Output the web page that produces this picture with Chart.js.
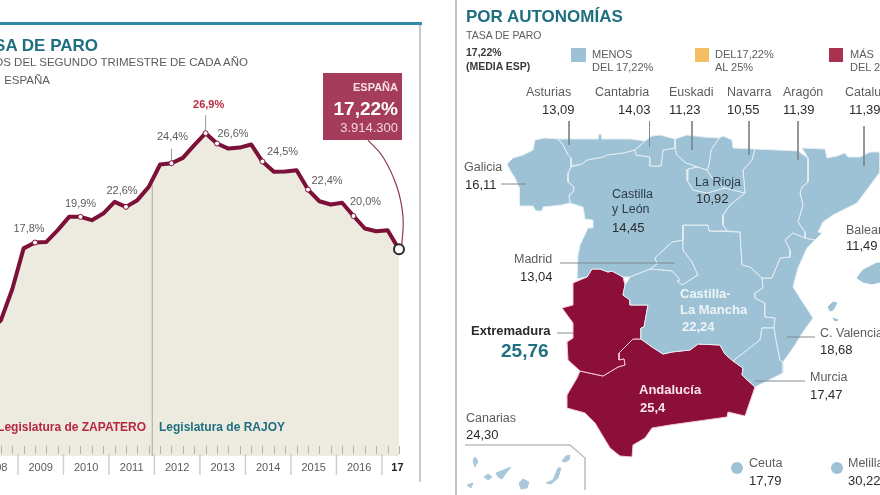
<!DOCTYPE html>
<html lang="es"><head><meta charset="utf-8"><title>Tasa de paro</title>
<style>
html,body{margin:0;padding:0;background:#fff;width:880px;height:495px;overflow:hidden;font-family:"Liberation Sans",Arial,sans-serif}
canvas{position:absolute;display:block}
#leftChart{left:-40px;top:0}
#mapChart{left:458px;top:0}
.t{position:absolute;white-space:nowrap;line-height:1;transform:translateY(-50%)}
.r{transform:translate(-100%,-50%)}
.bar{position:absolute}
</style>
<script src="https://cdn.jsdelivr.net/npm/chart.js@4"></script>
</head><body>
<canvas id="leftChart" width="480" height="495"></canvas>
<canvas id="mapChart" width="422" height="495"></canvas>
<script>
/* ---------- DATA: unemployment series ---------- */
const firstQuarter = [2008, 2];
const quarterValues = [
  10.4, 11.3, 13.9,
  17.3, 17.79, 17.84, 18.82,
  19.93, 19.93, 19.65, 20.2,
  21.18, 20.76, 21.32, 22.43,
  24.29, 24.4, 24.84, 25.9,
  26.9, 26.04, 25.62, 25.7,
  25.96, 24.54, 23.68, 23.7,
  23.82, 22.2, 21.23, 20.96,
  21.1, 20.0, 18.96, 18.73,
  18.82, 17.22
];
const yearLabels = ['2008','2009','2010','2011','2012','2013','2014','2015','2016','17'];
const labelledIndex = [4, 8, 12, 16, 19, 20, 24, 28, 32];
const labelledText  = ['17,8%','19,9%','22,6%','24,4%','26,9%','26,6%','24,5%','22,4%','20,0%'];
const spainRate = '17,22%';
const spainPeople = '3.914.300';

/* ---------- DATA: regional rates ---------- */
const regionNames  = ['Asturias','Cantabria','Euskadi','Navarra','Aragón','Cataluña','Galicia','La Rioja','Madrid','Baleares','C. Valencia','Murcia','Canarias','Ceuta','Melilla'];
const regionValues = ['13,09','14,03','11,23','10,55','11,39','11,39','16,11','10,92','13,04','11,49','18,68','17,47','24,30','17,79','30,22'];

/* ---------- DATA: map outlines, in map units ---------- */
const galicia = [[535,140],[545,138],[558,139],[563,145],[568,155],[571,158],[571,167],[568,173],[568,182],[574,187],[573,192],[569,195],[570,203],[562,205],[543,207],[542,211],[536,211],[533,206],[520,206],[519,197],[520,188],[515,178],[510,170],[507,164],[513,158],[523,155],[533,150]];
const asturias = [[558,139],[563,145],[568,155],[571,158],[571,166],[582,164],[587,160],[603,157],[607,155],[623,153],[635,150],[645,141],[630,139],[602,139],[601,134],[599,134],[598,139]];
const cantabria = [[635,150],[645,141],[652,136],[660,135],[675,139],[675,148],[663,150],[661,166],[650,166],[650,157],[636,155]];
const euskadi = [[675,139],[687,135],[703,137],[719,138],[711,150],[709,165],[707,170],[698,167],[686,163],[677,155],[675,148]];
const navarra = [[719,138],[723,136],[732,140],[733,148],[755,149],[752,160],[743,170],[745,193],[725,188],[712,178],[707,170],[709,165],[711,150]];
const rioja = [[688,169],[698,167],[707,170],[712,178],[725,188],[707,193],[693,190],[687,180]];
const castillaLeon = [[571,167],[582,164],[587,160],[603,157],[607,155],[623,153],[635,150],[636,155],[650,157],[650,166],[661,166],[663,150],[675,148],[677,155],[686,163],[698,167],[688,169],[687,180],[693,190],[707,193],[725,188],[745,193],[730,205],[723,215],[723,225],[727,231],[709,231],[708,225],[683,225],[683,240],[672,242],[658,255],[655,258],[657,264],[650,269],[647,270],[630,277],[623,277],[612,271],[608,272],[600,269],[592,269],[587,277],[577,279],[578,255],[580,245],[588,228],[593,228],[593,220],[585,219],[583,207],[570,203],[569,195],[573,192],[574,187],[568,182],[568,173]];
const aragon = [[755,149],[798,151],[808,158],[808,182],[802,187],[800,193],[803,205],[798,222],[805,232],[805,238],[793,233],[785,240],[790,250],[790,257],[780,258],[772,278],[762,278],[750,267],[742,265],[740,232],[727,231],[723,225],[723,215],[730,205],[745,193],[743,170],[752,160]];
const cataluna = [[802,148],[825,149],[827,158],[837,156],[845,153],[848,157],[860,157],[870,152],[880,152],[880,172],[857,203],[833,215],[823,222],[818,232],[822,233],[815,240],[805,238],[805,232],[798,222],[803,205],[800,193],[802,187],[808,182],[808,158]];
const valencia = [[772,278],[780,258],[790,257],[790,250],[785,240],[793,233],[805,238],[815,240],[807,248],[798,268],[793,287],[798,295],[813,318],[803,332],[793,348],[783,362],[780,360],[777,345],[774,328],[775,318],[765,317],[765,303],[755,298],[755,293],[763,288],[762,278]];
const murcia = [[762,328],[774,328],[777,345],[780,360],[783,362],[783,373],[773,378],[755,387],[742,375],[743,368],[733,361],[760,340]];
const castillaMancha = [[683,225],[708,225],[709,231],[740,232],[742,265],[750,267],[762,278],[763,288],[755,293],[755,298],[765,303],[765,317],[775,318],[774,328],[762,328],[760,340],[733,361],[725,354],[720,345],[698,344],[690,350],[672,352],[663,354],[652,347],[641,339],[641,328],[644,327],[648,305],[630,305],[630,300],[623,295],[625,285],[630,277],[647,270],[650,269],[672,271],[680,280],[677,281],[682,285],[698,275],[692,262],[683,250]];
const madrid = [[683,240],[672,242],[658,255],[655,258],[657,264],[650,269],[672,271],[680,280],[677,281],[682,285],[698,275],[692,262],[683,250]];
const extremadura = [[592,269],[600,269],[608,272],[612,271],[623,277],[625,285],[623,295],[630,300],[630,305],[648,305],[644,327],[641,328],[641,339],[633,339],[619,353],[619,360],[624,359],[625,365],[618,367],[603,376],[580,371],[568,360],[567,342],[573,338],[573,323],[562,308],[573,305],[573,283],[587,277]];
const andalucia = [[580,371],[603,376],[618,367],[625,365],[624,359],[619,360],[619,353],[633,339],[641,339],[652,347],[663,354],[672,352],[690,350],[698,344],[720,345],[725,354],[733,361],[743,368],[742,375],[755,387],[745,416],[728,412],[727,417],[670,425],[652,428],[645,438],[633,445],[632,457],[620,456],[610,448],[595,423],[585,413],[567,408],[567,395],[577,378]];
const mallorca = [[857,278],[863,270],[877,263],[880,263],[880,282],[872,284],[863,282]];
const ibiza = [[828,307],[833,302],[837,303],[833,310],[830,311]];
const formentera = [[833,318],[838,320],[835,321]];
const laPalma = [[473,460],[475,457],[478,461],[475,467]];
const gomera = [[484,477],[488,474],[492,477],[488,480]];
const tenerife = [[496,473],[511,467],[506,473],[502,479],[498,477]];
const hierro = [[467,485],[473,483],[471,488]];
const granCanaria = [[519,483],[523,479],[529,482],[527,488],[521,489]];
const fuerteventura = [[546,483],[553,480],[558,468],[561,468],[558,478],[551,484]];
const lanzarote = [[562,461],[566,456],[570,455],[569,460],[565,462]];
const canaryFrame = [[465,445],[570,445],[585,458],[585,490]];
const cityDots = [[737,468],[837,468]];
const leaderLines = [
  [[569,121],[569,145]],[[649.5,121],[649.5,147]],[[692,121],[692,150]],[[749,121],[749,155]],
  [[798,121],[798,160]],[[864,126],[864,166]],[[501,184],[526,184]],[[560,263],[675,263]],
  [[557,333],[573,333]],[[787,337],[815,337]],[[755,381],[805,381]]
];

/* ---------- styles ---------- */
const TEAL='#1f6f80', BLUE='#9dc2d6', MAROON='#8b0f38', INK='#3a3a3a', SOFT='#5c5c5c';
Chart.defaults.font.family='"Liberation Sans",Arial,sans-serif';
Chart.defaults.animation=false;

/* ---------- left chart ---------- */
const qx = i => { const q=firstQuarter[0]*4+firstQuarter[1]-1+i; return q/4+0.125; };
const series = quarterValues.map((v,i)=>({x:qx(i),y:v}));
const lastIdx = quarterValues.length-1;
const toPoint = p => ({x:p[0],y:p[1]});
const peak = labelledIndex[4], stem = labelledIndex[3];
const mandateChange = 2011.953;
const calloutCurve = [[2016.694,26.33],[2017.023,24.92],[2017.331,22.42],[2017.463,19.92],[2017.434,17.42]];
const labelOffsets = [[-6,-14],[0,-13],[-4,-16],[1,-26],[3,-28],[16,-10],[20,-10],[19,-9],[12,-14]];

const axisMarks = {
  id:'axisMarks',
  afterDatasetsDraw(chart){
    const {ctx,scales:{x},chartArea:a}=chart;
    ctx.save();
    ctx.strokeStyle='#b4b1a8';ctx.lineWidth=1;
    for(let y=2007;y<=2017;y++)for(let q=0;q<4;q++){
      const v=y+q/4+0.125; if(v>2017.4)continue;
      const p=Math.round(x.getPixelForValue(v))+.5;
      ctx.beginPath();ctx.moveTo(p,a.bottom-10);ctx.lineTo(p,a.bottom-2);ctx.stroke();
    }
    ctx.strokeStyle='#cfcfcf';ctx.lineWidth=1.5;
    for(let y=2008;y<=2017;y++){
      const p=x.getPixelForValue(y);
      ctx.beginPath();ctx.moveTo(p,a.bottom-2);ctx.lineTo(p,a.bottom+19);ctx.stroke();
    }
    ctx.textAlign='center';ctx.textBaseline='middle';
    labelledIndex.forEach((idx,k)=>{
      const px=x.getPixelForValue(series[idx].x), py=chart.scales.y.getPixelForValue(series[idx].y);
      const isPeak=idx===peak;
      ctx.font=(isPeak?'bold ':'')+'11px "Liberation Sans",Arial,sans-serif';
      ctx.fillStyle=isPeak?'#c0283f':SOFT;
      ctx.fillText(labelledText[k],px+labelOffsets[k][0],py+labelOffsets[k][1]);
    });
    ctx.restore();
  }
};

new Chart(document.getElementById('leftChart'),{
  type:'scatter',
  data:{datasets:[
    {data:series,showLine:true,order:1,clip:false,borderColor:'#7c1038',borderWidth:4,borderJoinStyle:'round',
      fill:'origin',backgroundColor:'#edeae0',
      pointRadius:c=>c.dataIndex===lastIdx?5:(labelledIndex.includes(c.dataIndex)?2.5:0),
      pointBackgroundColor:'#fff',
      pointBorderColor:c=>c.dataIndex===lastIdx?'#2a2a2a':'#7c1038',
      pointBorderWidth:c=>c.dataIndex===lastIdx?2:1},
    {data:[{x:mandateChange,y:0},{x:mandateChange,y:22.6}],showLine:true,order:3,pointRadius:0,borderColor:'#b5b3a8',borderWidth:1.2,clip:false},
    {data:[series[peak],{x:series[peak].x,y:28.4}],showLine:true,order:3,pointRadius:0,borderColor:'#9a9a9a',borderWidth:1,clip:false},
    {data:[series[stem],{x:series[stem].x,y:25.6}],showLine:true,order:3,pointRadius:0,borderColor:'#9a9a9a',borderWidth:1,clip:false},
    {data:calloutCurve.map(toPoint),showLine:true,order:2,pointRadius:0,tension:.4,borderColor:'#8c3a56',borderWidth:1.2,clip:false}
  ]},
  options:{
    responsive:false,animation:false,
    layout:{autoPadding:false,padding:{top:0,left:0,right:41,bottom:0}},
    plugins:{legend:{display:false},tooltip:{enabled:false},filler:{drawTime:'beforeDatasetsDraw'}},
    scales:{
      y:{display:false,min:0,max:38},
      x:{type:'linear',min:2007.727,max:2017.375,border:{display:false},
        grid:{display:false,drawTicks:false},
        afterBuildTicks(s){ s.ticks=yearLabels.map((l,i)=>({value:i===yearLabels.length-1?2017.34:2008.5+i})); },
        afterFit(s){ s.height=39; s.paddingLeft=0; s.paddingRight=0; },
        ticks:{autoSkip:false,maxRotation:0,padding:5,color:c=>c.index===yearLabels.length-1?'#222':SOFT,
          font:c=>({size:11,weight:c.index===yearLabels.length-1?'bold':'normal'}),
          callback:(v,i)=>yearLabels[i]}
      }
    }
  },
  plugins:[axisMarks]
});

/* ---------- map ---------- */
const polygon=(pts,color,edge)=>({data:pts.concat([pts[0]]).map(toPoint),showLine:true,fill:'shape',backgroundColor:color,
  borderColor:edge,borderWidth:1,pointRadius:0,order:3,tension:0,borderJoinStyle:'round'});
const W='#e4eef3', P='#f3c9d6';
const mapSets=[
  ...[galicia,asturias,cantabria,euskadi,navarra,rioja,castillaLeon,aragon,cataluna,valencia,murcia,castillaMancha,madrid].map(p=>polygon(p,BLUE,W)),
  ...[extremadura,andalucia].map(p=>polygon(p,MAROON,P)),
  ...[mallorca,ibiza,formentera].map(p=>polygon(p,BLUE,BLUE)),
  ...[laPalma,gomera,tenerife,hierro,granCanaria,fuerteventura,lanzarote].map(p=>polygon(p,'#a9c9da','#a9c9da')),
  {data:canaryFrame.map(toPoint),showLine:true,pointRadius:0,borderColor:'#bdbdbd',borderWidth:1.5,order:2},
  ...leaderLines.map(l=>({data:l.map(toPoint),showLine:true,pointRadius:0,borderColor:'#7f8a90',borderWidth:1,order:1})),
  {data:cityDots.map(toPoint),showLine:false,pointRadius:6,pointBackgroundColor:BLUE,pointBorderWidth:0,order:1}
];
new Chart(document.getElementById('mapChart'),{
  type:'scatter',
  data:{datasets:mapSets},
  options:{responsive:false,animation:false,layout:{autoPadding:false,padding:0},
    plugins:{legend:{display:false},tooltip:{enabled:false}},
    scales:{x:{display:false,min:458,max:880},y:{display:false,min:0,max:495,reverse:true}}}
});

/* ---------- text layer ---------- */
function put(text,x,y,size,opt){
  opt=opt||{};
  const d=document.createElement('div');
  d.className='t'+(opt.right?' r':'');
  d.textContent=text;
  d.style.left=x+'px';d.style.top=y+'px';d.style.fontSize=size+'px';
  d.style.color=opt.color||INK;
  if(opt.bold)d.style.fontWeight='bold';
  document.body.appendChild(d);
}
function rect(x,y,w,h,c){const d=document.createElement('div');d.className='bar';
  d.style.cssText+=`left:${x}px;top:${y}px;width:${w}px;height:${h}px;background:${c}`;document.body.appendChild(d);}

rect(0,22,422,3,'#2f8ba6');
rect(419,25,2,457,'#c9c9c9');
rect(455,0,2,495,'#c4c4c4');
rect(323,73,79,67,'#a63c5b');

put('TASA DE PARO',98,45,17,{bold:true,color:TEAL,right:true});
put('DATOS DEL SEGUNDO TRIMESTRE DE CADA AÑO',248,62.5,11.5,{color:SOFT,right:true});
put('ESPAÑA',50,81,11.5,{color:SOFT,right:true});
put('ESPAÑA',398,87,11,{bold:true,color:'#f5dfe5',right:true});
put(spainRate,398,108,19,{bold:true,color:'#fff',right:true});
put(spainPeople,398,127,13,{color:'#f3d5dc',right:true});
put('Legislatura de ZAPATERO',146,427,12,{bold:true,color:'#b5283f',right:true});
put('Legislatura de RAJOY',159,427,12,{bold:true,color:TEAL});

put('POR AUTONOMÍAS',466,16,17,{bold:true,color:TEAL});
put('TASA DE PARO',466,34.5,10.5,{color:SOFT});
put('17,22%',466,52,10.5,{bold:true,color:INK});
put('(MEDIA ESP)',466,66,10.5,{bold:true,color:INK});
rect(571,48,15,14,BLUE);rect(695,48,14,14,'#f5be63');rect(829,48,14,14,'#a8324f');
put('MENOS',592,53.5,11,{color:SOFT});put('DEL 17,22%',592,67,11,{color:SOFT});
put('DEL17,22%',715,53.5,11,{color:SOFT});put('AL 25%',715,67,11,{color:SOFT});
put('MÁS',850,53.5,11,{color:SOFT});put('DEL 25%',850,67,11,{color:SOFT});

const NAME=12.5, NUM=13;
const labelSpots=[[526,542],[595,618],[669,669],[727,727],[783,783],[845,849]];
labelSpots.forEach((s,i)=>{put(regionNames[i],s[0],91.5,NAME,{color:SOFT});put(regionValues[i],s[1],108.5,NUM,{color:'#2c2c2c'});});
const singleSpots={Galicia:[464,167,465,184],'La Rioja':[695,182,696,198],Madrid:[514,259,520,276],Baleares:[846,230,846,245],'C. Valencia':[820,333,820,349],Murcia:[810,377,810,394],Canarias:[466,418,466,434],Ceuta:[749,463,749,480],Melilla:[848,463,848,480]};
Object.keys(singleSpots).forEach(n=>{const s=singleSpots[n],v=regionValues[regionNames.indexOf(n)];
  put(n,s[0],s[1],NAME,{color:n==='La Rioja'?'#2c3c48':SOFT});put(v,s[2],s[3],NUM,{color:'#2c2c2c'});});
put('Castilla',612,194,NAME,{color:'#2c3c48'});put('y León',612,209,NAME,{color:'#2c3c48'});put('14,45',612,227,NUM,{color:'#2c2c2c'});
put('Extremadura',471,330,13,{bold:true,color:'#2a2a2a'});put('25,76',501,350,19,{bold:true,color:TEAL});
put('Castilla-',680,293,13,{bold:true,color:'#eef4f7'});put('La Mancha',680,309,13,{bold:true,color:'#eef4f7'});put('22,24',682,326,13,{bold:true,color:'#eef4f7'});
put('Andalucía',639,389,13,{bold:true,color:'#f8e6ec'});put('25,4',640,407,13,{bold:true,color:'#f8e6ec'});
</script>
</body></html>
